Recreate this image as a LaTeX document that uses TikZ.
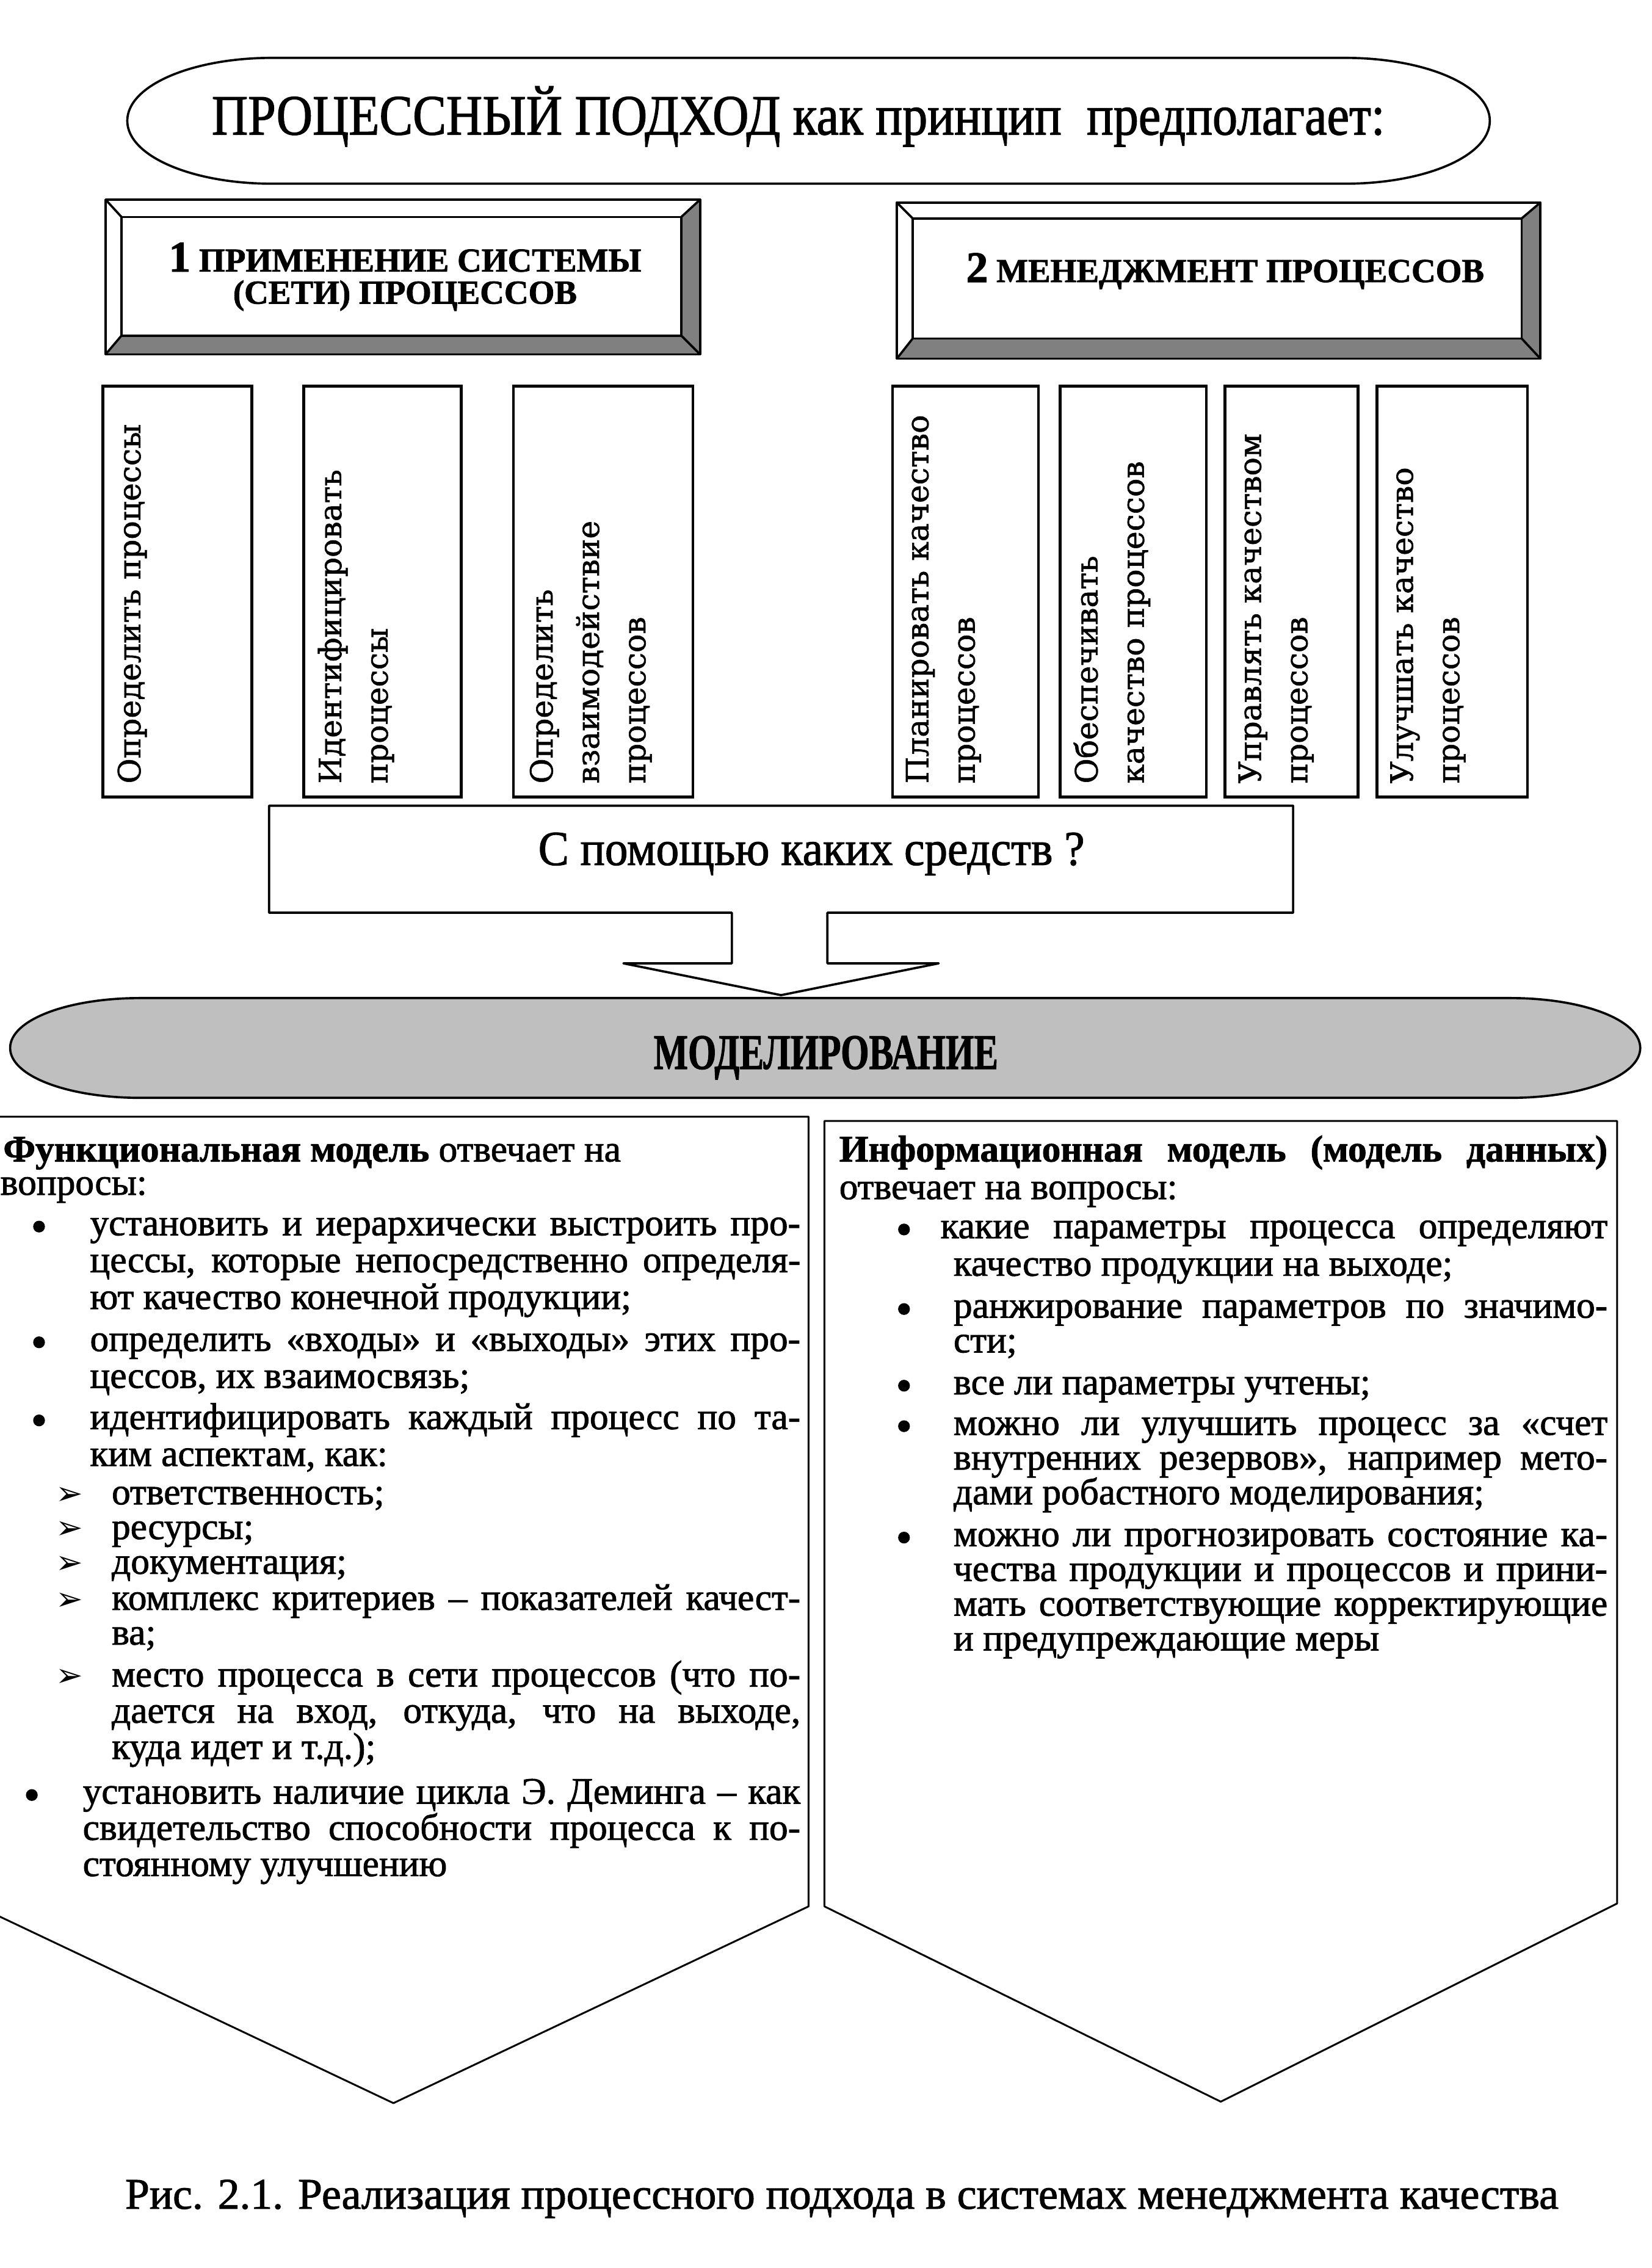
\documentclass[tikz,border=0pt]{standalone}
\usepackage{fontspec}
\usepackage{graphicx}
\setmainfont{Liberation Serif}[FakeBold=1.5]
\newfontfamily\wideserif{DejaVu Serif}[FakeBold=1.2]
\newfontfamily\symfont{DejaVu Sans}
\newlength\ul
\setlength\ul{0.71131pt}
\begin{document}
\begin{tikzpicture}[x=0.025cm, y=-0.025cm,
  shapeline/.style={draw=black, line width=1.1pt, line join=round},
  vbox/.style={draw=black, line width=1.4pt},
  vtext/.style={rotate=90, anchor=north west, inner sep=0pt, align=left, font=\wideserif\fontsize{15.1}{22.8}\selectfont},
  body/.style={anchor=base west, inner sep=0pt, font=\fontsize{18.4}{20}\selectfont},
  bul/.style={circle, fill=black, inner sep=0pt, minimum size=5.8pt},
  arrbul/.style={anchor=base, inner sep=0pt, font=\symfont\fontsize{16}{18}\selectfont},
  hdr/.style={inner sep=0pt, align=center, font=\bfseries\fontsize{16.5}{15.8}\selectfont},
  bevelfill/.style={fill=black!50}
]
\useasboundingbox (0,0) rectangle (1142,1568);
\fill[white] (0,0) rectangle (1142,1568);

% ---------- top stadium ----------
\draw[shapeline] (188,40) -- (930,40)
  .. controls (985,40) and (1030,59) .. (1030,83.5)
  .. controls (1030,108) and (985,127) .. (930,127)
  -- (188,127)
  .. controls (133,127) and (88,108) .. (88,83.5)
  .. controls (88,59) and (133,40) .. (188,40) -- cycle;
\node[anchor=base, inner sep=0pt] (title) at (552,93)
  {\scalebox{0.88}[1]{\fontsize{28}{32}\selectfont ПРОЦЕССНЫЙ ПОДХОД как принцип~ предполагает:}};

% ---------- bevel box 1 ----------
\fill[white] (73,138) rectangle (484,245);
\fill[bevelfill] (73,245) -- (484,245) -- (471,232) -- (84,232) -- cycle;
\fill[bevelfill] (484,138) -- (484,245) -- (471,232) -- (471,150) -- cycle;
\draw[shapeline] (73,138) rectangle (484,245);
\draw[shapeline] (84,150) rectangle (471,232);
\draw[shapeline] (73,138) -- (84,150) (484,138) -- (471,150) (73,245) -- (84,232) (484,245) -- (471,232);
\node[hdr, anchor=north] (h1) at (280,167.5)
  {{\fontsize{21.5}{15.8}\selectfont 1} ПРИМЕНЕНИЕ СИСТЕМЫ\\(СЕТИ) ПРОЦЕССОВ};

% ---------- bevel box 2 ----------
\fill[white] (620,140) rectangle (1065,248);
\fill[bevelfill] (620,248) -- (1065,248) -- (1052,234) -- (631,234) -- cycle;
\fill[bevelfill] (1065,140) -- (1065,248) -- (1052,234) -- (1052,151) -- cycle;
\draw[shapeline] (620,140) rectangle (1065,248);
\draw[shapeline] (631,151) rectangle (1052,234);
\draw[shapeline] (620,140) -- (631,151) (1065,140) -- (1052,151) (620,248) -- (631,234) (1065,248) -- (1052,234);
\node[hdr, anchor=base] (h2) at (847,195) {{\fontsize{21.5}{24}\selectfont 2} МЕНЕДЖМЕНТ ПРОЦЕССОВ};

% ---------- vertical boxes ----------
\draw[vbox] (71,267) rectangle (174,551);
\draw[vbox] (210,267) rectangle (319,551);
\draw[vbox] (355,267) rectangle (479,551);
\draw[vbox] (617,267) rectangle (718,551);
\draw[vbox] (733,267) rectangle (834,551);
\draw[vbox] (847,267) rectangle (939,551);
\draw[vbox] (952,267) rectangle (1056,551);
\node[vtext] (v1) at (81,542) {Определить процессы};
\node[vtext] (v2) at (219.5,542) {Идентифицировать\\процессы};
\node[vtext] (v3) at (366,542) {Определить\\взаимодействие\\процессов};
\node[vtext] (v4) at (626,542) {Планировать качество\\процессов};
\node[vtext] (v5) at (742,542) {Обеспечивать\\качество процессов};
\node[vtext] (v6) at (856,542) {Управлять качеством\\процессов};
\node[vtext] (v7) at (961,542) {Улучшать качество\\процессов};

% ---------- question box with arrow ----------
\draw[shapeline, fill=white] (186,557) -- (894,557) -- (894,631) -- (572,631) -- (572,666)
  -- (649,666) -- (540,688) -- (431,666) -- (506,666) -- (506,631) -- (186,631) -- cycle;
\node[anchor=base, inner sep=0pt] (q) at (561,598)
  {\scalebox{0.94}[1]{\fontsize{24}{28}\selectfont С помощью каких средств ?}};

% ---------- modelling stadium ----------
\draw[shapeline, fill=black!25] (97,690) -- (1044,690)
  .. controls (1094,690) and (1134,705) .. (1134,724.5)
  .. controls (1134,744) and (1094,759) .. (1044,759)
  -- (97,759)
  .. controls (47,759) and (7,744) .. (7,724.5)
  .. controls (7,705) and (47,690) .. (97,690) -- cycle;
\node[anchor=base, inner sep=0pt] (mod) at (571,739)
  {\scalebox{0.73}[1]{\bfseries\fontsize{24.5}{26}\selectfont МОДЕЛИРОВАНИЕ}};

% ---------- pentagon arrows ----------
\draw[shapeline, line width=0.9pt] (-15,772) -- (559,772) -- (559,1318) -- (272,1454) -- (-15,1318) -- cycle;
\draw[shapeline, line width=0.9pt] (570,775) -- (1118,775) -- (1118,1316) -- (844,1453) -- (570,1318) -- cycle;

% ---------- left text ----------
\node[body] (fl0) at (2,803) {\textbf{Функциональная модель} отвечает на};
\node[body] (fl1) at (0,826) {вопросы:};
\node[bul] (fb1) at (27,848) {};
\node[body] (fl2) at (62,854) {\makebox[491\ul][s]{установить и иерархически выстроить про-}};
\node[body] (fl3) at (62,879.5) {\makebox[491\ul][s]{цессы, которые непосредственно определя-}};
\node[body] (fl4) at (62,905) {ют качество конечной продукции;};
\node[bul] (fb2) at (27,928) {};
\node[body] (fl5) at (62,934) {\makebox[491\ul][s]{определить «входы» и «выходы» этих про-}};
\node[body] (fl6) at (62,959.5) {цессов, их взаимосвязь;};
\node[bul] (fb3) at (27,982) {};
\node[body] (fl7) at (62,988) {\makebox[491\ul][s]{идентифицировать каждый процесс по та-}};
\node[body] (fl8) at (62,1013.5) {ким аспектам, как:};
\node[arrbul] (fa1) at (48,1040) {➢};
\node[body] (fl9) at (77,1040) {ответственность;};
\node[arrbul] (fa2) at (48,1064) {➢};
\node[body] (fl10) at (77,1064) {ресурсы;};
\node[arrbul] (fa3) at (48,1088) {➢};
\node[body] (fl11) at (77,1088) {документация;};
\node[arrbul] (fa4) at (48,1113) {➢};
\node[body] (fl12) at (77,1113) {\makebox[476\ul][s]{комплекс критериев – показателей качест-}};
\node[body] (fl13) at (77,1137) {ва;};
\node[arrbul] (fa5) at (48,1166) {➢};
\node[body] (fl14) at (77,1166) {\makebox[476\ul][s]{место процесса в сети процессов (что по-}};
\node[body] (fl15) at (77,1191) {\makebox[476\ul][s]{дается на вход, откуда, что на выходе,}};
\node[body] (fl16) at (77,1216) {куда идет и т.д.);};
\node[bul] (fb4) at (22,1241) {};
\node[body] (fl17) at (57,1247) {\makebox[496\ul][s]{установить наличие цикла Э. Деминга – как}};
\node[body] (fl18) at (57,1272) {\makebox[496\ul][s]{свидетельство способности процесса к по-}};
\node[body] (fl19) at (57,1297) {стоянному улучшению};

% ---------- right text ----------
\node[body] (il0) at (580,803) {\makebox[531\ul][s]{\bfseries Информационная модель (модель данных)}};
\node[body] (il1) at (580,829) {отвечает на вопросы:};
\node[bul] (ib1) at (625,850) {};
\node[body] (il2) at (650,856) {\makebox[461\ul][s]{какие параметры процесса определяют}};
\node[body] (il3) at (659,882) {качество продукции на выходе;};
\node[bul] (ib2) at (625,905) {};
\node[body] (il4) at (659,911) {\makebox[452\ul][s]{ранжирование параметров по значимо-}};
\node[body] (il5) at (659,935) {сти;};
\node[bul] (ib3) at (625,958) {};
\node[body] (il6) at (659,964) {все ли параметры учтены;};
\node[bul] (ib4) at (625,986) {};
\node[body] (il7) at (659,992) {\makebox[452\ul][s]{можно ли улучшить процесс за «счет}};
\node[body] (il8) at (659,1016) {\makebox[452\ul][s]{внутренних резервов», например мето-}};
\node[body] (il9) at (659,1040) {дами робастного моделирования;};
\node[bul] (ib5) at (625,1063) {};
\node[body] (il10) at (659,1069) {\makebox[452\ul][s]{можно ли прогнозировать состояние ка-}};
\node[body] (il11) at (659,1093) {\makebox[452\ul][s]{чества продукции и процессов и прини-}};
\node[body] (il12) at (659,1117) {\makebox[452\ul][s]{мать соответствующие корректирующие}};
\node[body] (il13) at (659,1141) {и предупреждающие меры};

% ---------- caption ----------
\node[anchor=base, inner sep=0pt, font=\fontsize{21.5}{24}\selectfont] (cap) at (582,1527)
  {Рис. 2.1. Реализация процессного подхода в системах менеджмента качества};
\end{tikzpicture}
\end{document}
